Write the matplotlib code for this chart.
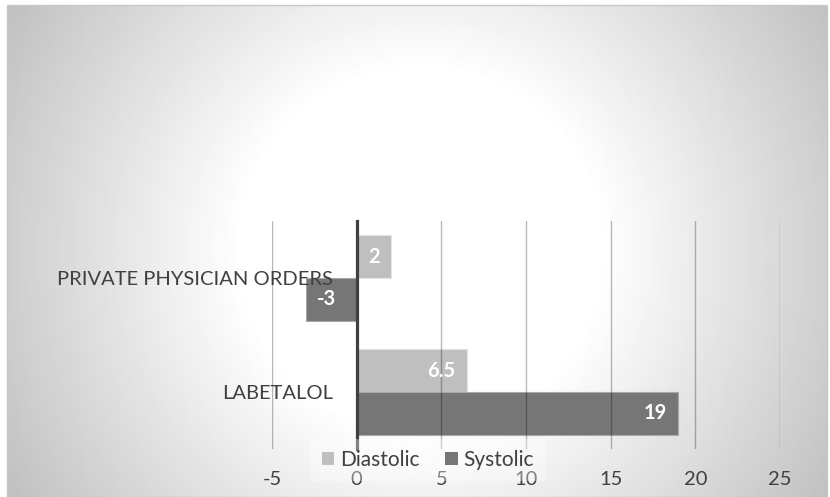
import matplotlib.pyplot as plt
import numpy as np
from matplotlib.patches import Patch, Rectangle

categories = ["LABETALOL", "PRIVATE PHYSICIAN ORDERS"]
diastolic = [6.5, 2]
systolic = [19, -3]
xticks = [-5, 0, 5, 10, 15, 20, 25]

DIA_COLOR = "#bfbfbf"
SYS_COLOR = "#767676"
TEXT_COLOR = "#404040"

plt.rcParams["font.family"] = ["Lato", "DejaVu Sans"]

W, H = 830, 497
fig = plt.figure(figsize=(W / 100, H / 100), dpi=100)

# ---- chart-area background: radial grey gradient --------------------------
x0, x1, y0, y1 = 7, 827, 5, 497
bg = fig.add_axes([x0 / W, 1 - y1 / H, (x1 - x0) / W, (y1 - y0) / H])
yy, xx = np.mgrid[y0:y1, x0:x1]
r = np.hypot(xx - 420, yy - 250)
shade = np.clip(255 - 0.21 * np.clip(r - 180, 0, None), 185, 255) / 255
bg.imshow(shade, cmap="gray", vmin=0, vmax=1, aspect="auto", interpolation="bilinear")
bg.axis("off")
fig.patches.append(
    Rectangle((x0 / W, 1 - y1 / H), (x1 - x0) / W, (y1 - y0) / H,
              transform=fig.transFigure, fill=False, edgecolor="#c8c8c8", lw=1)
)

# ---- plot area ------------------------------------------------------------
ax = fig.add_axes([272 / W, 1 - 449 / H, 508 / W, 228 / H])
ax.patch.set_alpha(0)

y = np.arange(len(categories))
h = 0.373
bars_d = ax.barh(y + h / 2, diastolic, height=h, color=DIA_COLOR,
                 edgecolor="#e4e4e4", linewidth=0.8, label="Diastolic")
bars_s = ax.barh(y - h / 2, systolic, height=h, color=SYS_COLOR,
                 edgecolor="#a8a8a8", linewidth=0.8, label="Systolic")

# inside-end data labels
for bars, vals in ((bars_d, diastolic), (bars_s, systolic)):
    for bar, v in zip(bars, vals):
        yc = bar.get_y() + bar.get_height() / 2
        off = -8 if v >= 0 else 8
        ax.annotate(f"{v:g}", (v, yc), textcoords="offset points", xytext=(off, 0),
                    ha="right" if v >= 0 else "left", va="center",
                    color="white", fontsize=14.5, fontweight="bold", zorder=4)

ax.set_xlim(-5, 25)
ax.set_ylim(-0.5, 1.5)
ax.set_xticks(xticks)
ax.set_xticklabels([str(t) for t in xticks])
ax.set_yticks(y)
ax.set_yticklabels(categories)
ax.tick_params(axis="x", length=0, pad=16, labelsize=14.5, labelcolor=TEXT_COLOR)
ax.tick_params(axis="y", length=0, pad=17, labelsize=14.5, labelcolor=TEXT_COLOR)

ax.grid(True, axis="x", color="black", alpha=0.28, linewidth=1)
ax.grid(False, axis="y")
for side in ("top", "right", "bottom"):
    ax.spines[side].set_visible(False)
ax.spines["left"].set_position(("data", 0))
ax.spines["left"].set_color(TEXT_COLOR)
ax.spines["left"].set_linewidth(2.3)

handles = [Patch(facecolor=DIA_COLOR, label="Diastolic"),
           Patch(facecolor=SYS_COLOR, label="Systolic")]
leg = fig.legend(handles=handles, loc="center", bbox_to_anchor=(428 / W, 1 - 460 / H),
                 ncol=2, frameon=True, fontsize=15, handlelength=0.6,
                 handleheight=0.6, handletextpad=0.3, columnspacing=1.2,
                 borderpad=0.25, labelcolor=TEXT_COLOR)
leg.get_frame().set_facecolor("white")
leg.get_frame().set_alpha(0.35)
leg.get_frame().set_edgecolor("none")
leg.get_frame().set_boxstyle("square")

fig.savefig("out.png", dpi=100)
